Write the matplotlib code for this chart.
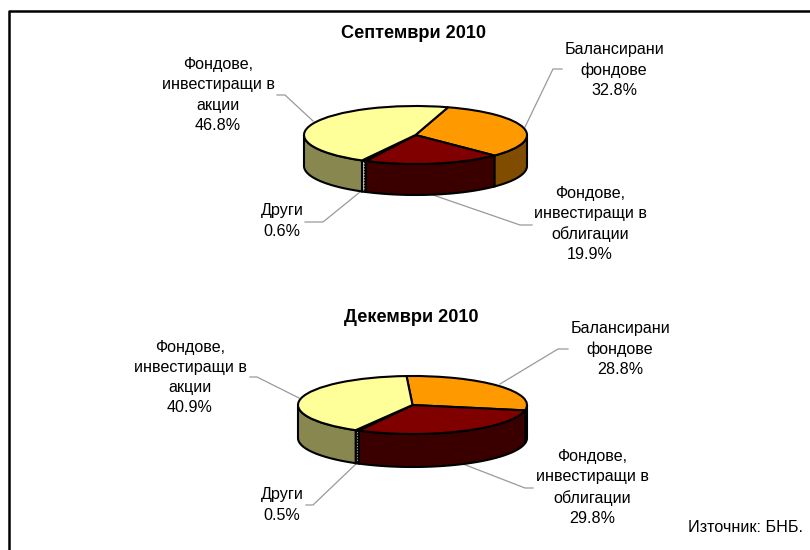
#!/usr/bin/env python3
# plot.py - two 3D-looking pies, fund structure Sept and Dec 2010

import numpy as np
from matplotlib import pyplot as plt
from matplotlib.lines import Line2D

W, H = 810, 550

sep_values = [32.8, 19.9, 0.6, 46.8]
dec_values = [28.8, 29.8, 0.5, 40.9]
sep_title = 'Септември 2010'
dec_title = 'Декември 2010'
sep_labels = ['Балансирани\nфондове\n32.8%', 'Фондове,\nинвестиращи в\nоблигации\n19.9%',
              'Други\n0.6%', 'Фондове,\nинвестиращи в\nакции\n46.8%']
dec_labels = ['Балансирани\nфондове\n28.8%', 'Фондове,\nинвестиращи в\nоблигации\n29.8%',
              'Други\n0.5%', 'Фондове,\nинвестиращи в\nакции\n40.9%']
top_colors = ['#FF9900', '#800000', '#E8E8E8', '#FFFF99']
side_colors = ['#7F4C00', '#3A0000', '#C8C8C8', '#87874F']
source = 'Източник: БНБ.'

plt.rcParams['font.family'] = ['Liberation Sans', 'DejaVu Sans']
fig = plt.figure(figsize=(W / 100, H / 100), dpi=100)

# overlay in pixel coords, for frame, text and leader lines
bg = fig.add_axes([0, 0, 1, 1])
bg.set_xlim(0, W)
bg.set_ylim(H, 0)
bg.axis('off')


def draw_pie(values, cx, cy, a, b, depth, start):
    #Axes so that the unit circle lands on the ellipse, the room below is for the side
    ax = fig.add_axes([(cx - a) / W, 1 - (cy + b + depth) / H, 2 * a / W, (2 * b + depth) / H])
    ax.pie(values, colors=top_colors, startangle=90 - start, counterclock=False,
           radius=1, wedgeprops=dict(edgecolor='black', linewidth=1.5, zorder=3))
    ax.set_aspect('auto')
    ax.set_xlim(-1, 1)
    ax.set_ylim(-1 - depth / b, 1)
    ax.patch.set_alpha(0)
    d = depth / b
    #Side walls: only the part of each slice that faces the viewer
    edges = start + np.cumsum([0] + list(values)) / sum(values) * 360
    for i in range(len(values)):
        t0, t1 = edges[i], edges[i + 1]
        # clockwise angle from the top, front half is 90..270
        lo = max(t0, 90)
        hi = min(t1, 270)
        if hi <= lo:
            continue
        t = np.radians(np.linspace(lo, hi, 80))
        x = np.sin(t)
        y = np.cos(t)
        ax.fill(np.r_[x, x[::-1]], np.r_[y, y[::-1] - d], facecolor=side_colors[i],
                edgecolor='black', linewidth=1.5, zorder=2, clip_on=False)
        if i == 2:
            mid = np.radians(lo + hi) / 2
            ax.plot([np.sin(mid)] * 2, [np.cos(mid), np.cos(mid) - d],
                    color='black', lw=1, ls=(0, (1, 1)), zorder=2.5)


draw_pie(sep_values, 415.5, 135, 111.5, 29, 31, 17)
draw_pie(dec_values, 412.5, 405, 114.5, 29, 33, -3)

# frame, only top and left are in the crop
bg.add_line(Line2D([8.5, 8.5, W], [H, 10.5, 10.5], color='black', lw=1.8))

fs = 11.6
bg.text(413.5, 34, sep_title, ha='center', va='center', fontsize=13.1, fontweight='bold')
bg.text(411, 318, dec_title, ha='center', va='center', fontsize=13.1, fontweight='bold')

# label centers: balanced, bonds, other, stocks
sep_pos = [(614, 70), (590, 224), (282, 221), (218, 95)]
dec_pos = [(620, 349), (592, 487.5), (282, 505), (190, 377.5)]
for labels, pos in ((sep_labels, sep_pos), (dec_labels, dec_pos)):
    for s, (x, y) in zip(labels, pos):
        bg.text(x, y, s, ha='center', va='center', fontsize=fs, linespacing=1.42)
bg.text(803, 527, source, ha='right', va='center', fontsize=fs)

# leader lines, each with a short elbow next to the label
leaders = [([562, 553, 525], [69, 69, 127]), ([433, 520, 532], [195, 225, 225]),
           ([360, 323, 305], [192, 222, 222]), ([277, 285, 313], [95, 95, 121]),
           ([568, 558, 500], [349, 349, 384]), ([463, 525, 533], [464, 488, 488]),
           ([357, 313, 306], [463, 505, 505]), ([250, 257, 299], [377, 377, 398])]
for xs, ys in leaders:
    bg.add_line(Line2D(xs, ys, color='#999999', lw=0.9))

fig.savefig('out.png', dpi=100)
